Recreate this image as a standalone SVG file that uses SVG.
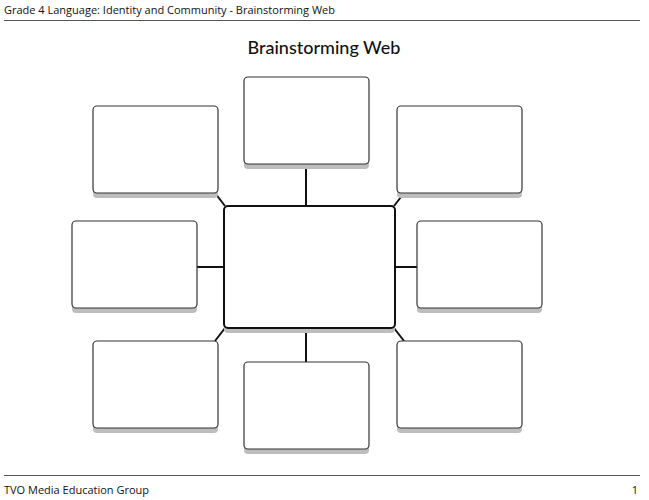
<svg xmlns="http://www.w3.org/2000/svg" width="649" height="500" viewBox="0 0 649 500">
<style>
.b{fill:#fff;stroke:#333;stroke-width:1.2}
.s{fill:#bdbdbd}
.c{stroke:#111;stroke-width:2;fill:none}
.t{font-family:"Open Sans","Liberation Sans",sans-serif;font-size:11px;fill:#111}
</style>
<rect width="649" height="500" fill="#fff"/>
<text class="t" x="4" y="14">Grade 4 Language: Identity and Community - Brainstorming Web</text>
<line x1="4" y1="20.5" x2="640" y2="20.5" stroke="#555" stroke-width="1"/>
<text x="324" y="54" text-anchor="middle" font-family="Lato,'Liberation Sans',sans-serif" font-size="18" font-weight="500" fill="#111">Brainstorming Web</text>
<g id="connectors" class="c">
<line x1="306" y1="165" x2="306" y2="206"/>
<line x1="306" y1="328" x2="306" y2="362"/>
<line x1="197" y1="267" x2="224" y2="267"/>
<line x1="395" y1="267" x2="417" y2="267"/>
<line x1="215" y1="193" x2="225" y2="206"/>
<line x1="404" y1="193" x2="394" y2="206"/>
<line x1="225" y1="328" x2="215" y2="341"/>
<line x1="394" y1="328" x2="404" y2="341"/>
</g>
<g id="n-tl"><rect class="s" x="93" y="110" width="125" height="88" rx="4"/><rect class="b" x="93" y="106" width="125" height="87" rx="4"/></g>
<g id="n-tc"><rect class="s" x="244" y="81" width="125" height="88" rx="4"/><rect class="b" x="244" y="77" width="125" height="87" rx="4"/></g>
<g id="n-tr"><rect class="s" x="397" y="110" width="125" height="88" rx="4"/><rect class="b" x="397" y="106" width="125" height="87" rx="4"/></g>
<g id="n-l"><rect class="s" x="72" y="225" width="125" height="88" rx="4"/><rect class="b" x="72" y="221" width="125" height="87" rx="4"/></g>
<g id="n-r"><rect class="s" x="417" y="225" width="125" height="88" rx="4"/><rect class="b" x="417" y="221" width="125" height="87" rx="4"/></g>
<g id="n-bl"><rect class="s" x="93" y="345" width="125" height="88" rx="4"/><rect class="b" x="93" y="341" width="125" height="87" rx="4"/></g>
<g id="n-bc"><rect class="s" x="244" y="366" width="125" height="88" rx="4"/><rect class="b" x="244" y="362" width="125" height="87" rx="4"/></g>
<g id="n-br"><rect class="s" x="397" y="345" width="125" height="88" rx="4"/><rect class="b" x="397" y="341" width="125" height="87" rx="4"/></g>
<g id="n-center"><rect class="s" x="224" y="210" width="171" height="123" rx="4"/><rect x="224" y="206" width="171" height="122" rx="4" fill="#fff" stroke="#111" stroke-width="2"/></g>
<line x1="4" y1="475.5" x2="640" y2="475.5" stroke="#555" stroke-width="1"/>
<text class="t" x="4" y="494">TVO Media Education Group</text>
<text class="t" x="638" y="494" text-anchor="end">1</text>
</svg>
